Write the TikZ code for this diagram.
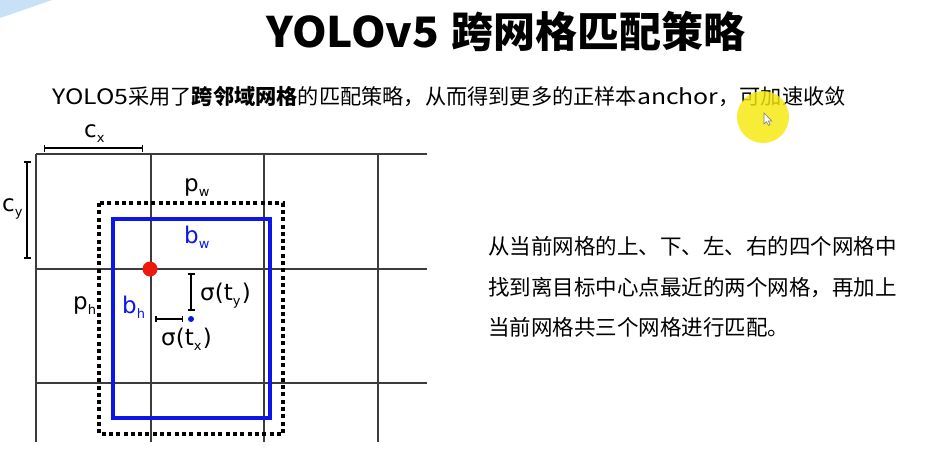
\documentclass[tikz,border=0pt]{standalone}
\usepackage{graphicx}
\usepackage{fontspec}
\setmainfont{Noto Sans CJK SC}
\newfontfamily\labfont{DejaVu Sans}
\usetikzlibrary{arrows.meta}

\definecolor{gridline}{RGB}{60,60,60}
\definecolor{boxblue}{RGB}{12,22,232}
\definecolor{dotred}{RGB}{238,24,12}
\definecolor{cornerblue}{RGB}{200,225,246}
\definecolor{hiyellow}{RGB}{246,232,10}

% widened Latin run inside Chinese text
\newcommand\wl[1]{\scalebox{1.17}[1]{#1}}
% subscript for the figure labels
\newcommand\lsub[1]{\raisebox{-5pt}{\fontsize{13}{13}\selectfont #1}\hspace{1.5pt}}

\tikzset{
  grid/.style={draw=gridline, line width=1.1pt},
  prior/.style={draw=black, line width=4pt, dash pattern=on 4pt off 3.3pt},
  pred/.style={draw=boxblue, line width=4pt},
  dimline/.style={draw=black, line width=1.4pt, {Bar[width=7pt]}-{Bar[width=7pt]}},
  lab/.style={anchor=base west, inner sep=0pt, font=\labfont\fontsize{23}{23}\selectfont},
  body/.style={anchor=base west, inner sep=0pt, font=\fontsize{21.5}{21.5}\selectfont},
}

\begin{document}
\begin{tikzpicture}[x=1pt, y=-1pt]
\useasboundingbox (0,0) rectangle (934,474);
\fill[white] (0,0) rectangle (934,474);
\fill[cornerblue] (0,0) -- (52,0) -- (0,18) -- cycle;

% heading and introduction
\node[anchor=base west, inner sep=0pt, font=\fontsize{42}{42}\selectfont\bfseries] (title) at (266,47)
  {\scalebox{1.05}[1]{YOLOv5}\hspace{12pt}跨网格匹配策略};
\node[anchor=base west, inner sep=0pt, font=\fontsize{21.2}{21.2}\selectfont] (intro) at (52,104)
  {\wl{YOLO5}采用了\textbf{跨邻域网格}的匹配策略，从而得到更多的正样本\wl{anchor}，可加速收敛};

% grid of cells
\foreach \x in {36,151,264,378} \draw[grid] (\x,154) -- (\x,442);
\foreach \y in {154,269,383} \draw[grid] (36,\y) -- (427,\y);

% prior box (dotted) and predicted box (blue)
\draw[prior] (99,203) rectangle (283,434);
\draw[pred] (113,219) rectangle (270,418);

% cell size dimensions
\coordinate (cxa) at (44,148);  \coordinate (cxb) at (143,148);
\coordinate (cya) at (27,161);  \coordinate (cyb) at (27,259);
\draw[dimline] (cxa) -- (cxb);
\draw[dimline, line width=2.2pt] (cya) -- (cyb);
\node[lab] (cx) at (84,137) {c\lsub{x}};
\node[lab] (cy) at (2,211) {c\lsub{y}};

% box size labels
\node[lab] (pw) at (184,191) {p\lsub{w}};
\node[lab, text=boxblue] (bw) at (184,243) {b\lsub{w}};
\node[lab] (ph) at (73,309) {p\lsub{h}};
\node[lab, text=boxblue] (bh) at (122,313) {b\lsub{h}};

% cell corner and predicted centre
\fill[dotred] (150,269) circle[radius=7.5];
\fill[boxblue] (191,319) circle[radius=3];
\coordinate (tya) at (191,273);
\coordinate (tyb) at (191,311);
\coordinate (txa) at (155,319);
\coordinate (txb) at (183,319);
\draw[dimline, line width=1.8pt] (tya) -- (tyb);
\draw[dimline, line width=1.5pt, {Bar[width=6pt]}-{Bar[width=6pt]}] (txa) -- (txb);
\node[lab] (sty) at (200,300) {σ(t\lsub{y})};
\node[lab] (stx) at (161,345) {σ(t\lsub{x})};

% explanation
\node[body] (l1) at (488,254) {从当前网格的上、下、左、右的四个网格中};
\node[body] (l2) at (488,295) {找到离目标中心点最近的两个网格，再加上};
\node[body] (l3) at (488,335) {当前网格共三个网格进行匹配。};

% pointer highlight
\fill[hiyellow, opacity=0.82] (763,117) circle[radius=26];
\filldraw[fill=white, draw=gray, line width=0.6pt, shift={(764,113)}]
  (0,0) -- (0,11) -- (2.6,8.6) -- (4.4,12.4) -- (6,11.7) -- (4.3,8) -- (7.8,8) -- cycle;
\end{tikzpicture}
\end{document}
